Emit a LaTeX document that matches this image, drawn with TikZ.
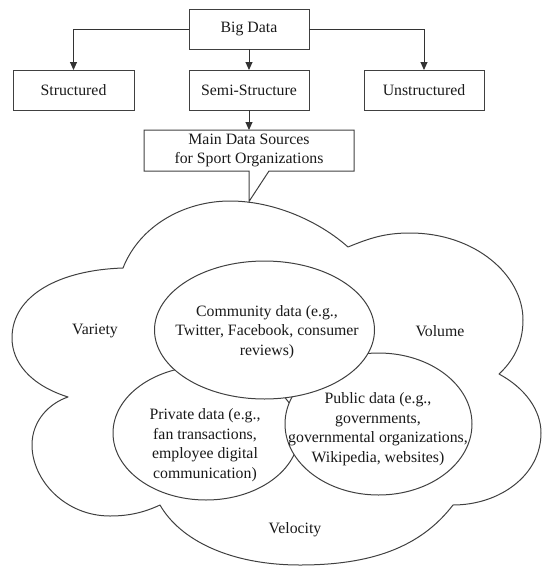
\documentclass[tikz,border=0pt]{standalone}
\usepackage{fontspec}
\setmainfont{LiberationSerif}[Extension=.ttf, UprightFont=*-Regular, BoldFont=*-Bold]
\usetikzlibrary{arrows.meta}
\begin{document}
\begin{tikzpicture}[x=1pt,y=-1pt,
  lc/.style={draw=black!75, line width=1pt},
  txt/.style={font=\fontsize{15.8}{19.5}\selectfont, text=black!90},
  box/.style={lc, txt, rectangle, inner sep=0pt, outer sep=0pt, minimum height=40pt, minimum width=120pt},
  arr/.style={draw=black!80, line width=1pt, -{Triangle[width=7pt,length=8pt]}},
  lbl/.style={txt, align=center, inner sep=0pt}
]
\useasboundingbox (0,0) rectangle (543,566);

% top hierarchy
\node[box] (big) at (249,29) {Big Data};
\node[box, minimum width=121pt] (struct) at (73.5,90) {Structured};
\node[box] (semi) at (249,90) {Semi-Structure};
\node[box] (unstr) at (424,90) {Unstructured};

\draw[arr] (big.west) -| (struct.north);
\draw[arr] (big.east) -| (unstr.north);
\draw[arr] (big.south) -- (semi.north);

% callout
\node[lbl, minimum width=210pt, minimum height=41pt, outer sep=0pt] (main) at (249,150.5) {Main Data Sources\\for Sport Organizations};
\draw[arr] (semi.south) -- (main.north);
\coordinate (tip) at (249,201.5);
\draw[lc, line join=miter] (269,171) -- (main.south east) -- (main.north east) -- (main.north west) -- (main.south west) -- (249,171) -- (tip) -- cycle;

% cloud
\draw[lc, line join=round] (123,268)
 .. controls (140,225) and (185,201) .. (230,201)
 .. controls (275,201) and (320,222) .. (348,247)
 .. controls (370,238) and (385,233) .. (410,233)
 .. controls (475,233) and (523,275) .. (523,320)
 .. controls (523,345) and (512,362) .. (499,374)
 .. controls (525,388) and (541,410) .. (541,433)
 .. controls (541,475) and (500,505) .. (453,505)
 .. controls (420,548) and (370,565) .. (300,565)
 .. controls (230,565) and (180,540) .. (160,505)
 .. controls (145,512) and (130,516) .. (110,516)
 .. controls (65,516) and (32,480) .. (32,445)
 .. controls (32,420) and (50,403) .. (68,397)
 .. controls (30,385) and (12,362) .. (12,338)
 .. controls (12,295) and (60,270) .. (123,268) -- cycle;

% inner ellipses
\draw[lc, fill=white] (206,433) ellipse [x radius=93, y radius=67];
\draw[lc, fill=white] (378.5,424) ellipse [x radius=93.5, y radius=71];
\draw[lc, fill=white] (264.5,330) ellipse [x radius=110, y radius=69];

% labels
\node[lbl] (variety) at (95,331) {Variety};
\node[lbl] (volume) at (440,331) {Volume};
\node[lbl] (velocity) at (295,530) {Velocity};
\node[lbl] (community) at (267,332) {Community data (e.g.,\\Twitter, Facebook, consumer\\reviews)};
\node[lbl] (private) at (205,445) {Private data (e.g.,\\fan transactions,\\employee digital\\communication)};
\node[lbl] (public) at (378,429) {Public data (e.g.,\\governments,\\governmental organizations,\\Wikipedia, websites)};
\end{tikzpicture}
\end{document}
